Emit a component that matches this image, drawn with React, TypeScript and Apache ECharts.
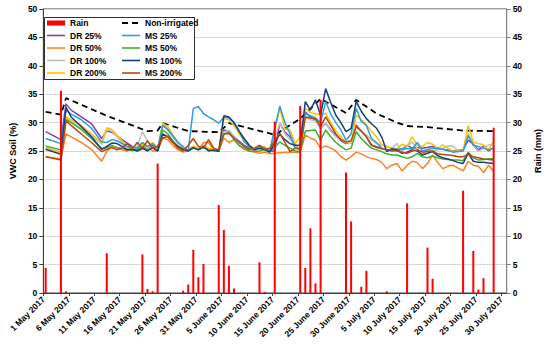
import React, { useEffect, useRef } from "react";
import * as echarts from "echarts";

// day index from 1 May 2017
const MONTHS = ["Jan", "Feb", "Mar", "Apr", "May", "June", "July", "Aug"];
const TICK_DAYS = [0, 5, 10, 15, 20, 25, 30, 35, 40, 45, 50, 55, 60, 65, 70, 75, 80, 85, 90];
const Y_TICKS = [0, 5, 10, 15, 20, 25, 30, 35, 40, 45, 50];

const rain: [number, number][] = [
  [0, 4.4], [3, 35.6], [4, 0.3], [12, 7.0], [19, 6.8], [20, 0.7], [21, 0.3], [22, 22.8],
  [27, 0.4], [28, 1.5], [29, 7.6], [30, 2.8], [31, 5.1], [34, 15.5], [35, 11.1], [36, 4.8],
  [37, 0.8], [42, 5.4], [43, 0.2], [45, 30.2], [50, 32.9], [51, 4.4], [52, 11.4], [53, 1.7],
  [54, 34.0], [59, 21.2], [60, 12.6], [62, 1.1], [63, 3.9], [67, 0.3], [71, 15.8], [75, 8.0],
  [76, 2.5], [82, 18.0], [84, 7.4], [85, 0.6], [86, 2.6], [88, 29.1],
];

const nonIrrigated: [number, number][] = [
  [0, 31.9], [3, 31.4], [4, 34.3], [12, 31.2], [20, 28.5], [22, 28.6], [23, 29.9], [28, 28.5],
  [34, 28.3], [36, 29.9], [44, 28.1], [45, 27.8], [50, 30.7], [54, 34.2], [59, 31.7], [61, 34.0],
  [65, 31.6], [69, 30.0], [71, 29.4], [75, 29.2], [82, 28.6], [88, 28.5],
];

const dr25: [number, number][] = [
  [0, 28.4], [3, 27.0], [4, 33.3], [5, 32.2], [7, 31.0], [9, 29.8], [11, 27.2], [12, 28.5],
  [13, 28.3], [15, 27.0], [17, 25.8], [18, 25.3], [19, 26.5], [20, 25.5], [21, 26.0], [22, 25.3],
  [23, 29.5], [24, 28.8], [26, 26.5], [27, 25.5], [28, 25.2], [29, 25.8], [30, 25.3], [31, 26.0],
  [32, 25.3], [33, 25.2], [34, 25.0], [35, 28.7], [36, 28.5], [37, 27.5], [39, 26.0], [41, 25.2],
  [42, 25.5], [43, 25.6], [44, 25.0], [45, 25.0], [46, 29.9], [47, 28.3], [48, 27.5], [49, 26.0],
  [50, 25.3], [51, 31.9], [52, 30.9], [53, 30.5], [54, 29.0], [55, 29.9], [56, 28.7], [58, 26.8],
  [59, 26.3], [60, 26.5], [61, 29.6], [62, 28.5], [63, 27.5], [64, 26.0], [66, 25.5], [67, 25.2],
  [68, 25.0], [70, 25.2], [71, 26.0], [72, 25.5], [73, 25.6], [74, 25.5], [76, 25.8], [78, 25.3],
  [80, 25.0], [82, 25.2], [83, 26.9], [84, 26.2], [85, 25.2], [86, 25.8], [87, 25.0], [88, 25.6],
];

const dr50: [number, number][] = [
  [0, 24.0], [3, 23.6], [4, 28.0], [5, 27.5], [7, 26.5], [9, 25.3], [11, 23.2], [12, 24.9],
  [13, 25.8], [14, 25.5], [15, 25.2], [16, 25.0], [17, 25.5], [18, 25.0], [19, 25.3], [20, 25.8],
  [21, 25.0], [22, 25.0], [23, 27.3], [24, 27.0], [25, 26.0], [26, 25.2], [27, 24.8], [28, 25.0],
  [29, 25.8], [30, 25.2], [31, 26.5], [32, 26.5], [33, 25.3], [34, 25.0], [35, 27.3], [36, 26.5],
  [37, 27.0], [38, 26.0], [39, 25.3], [40, 25.0], [41, 24.8], [42, 24.6], [43, 24.8], [44, 24.5],
  [46, 24.7], [48, 24.8], [50, 24.8], [51, 27.8], [52, 27.3], [53, 26.9], [54, 25.5], [55, 25.9],
  [56, 25.5], [57, 25.0], [58, 24.0], [59, 23.4], [60, 24.0], [61, 24.8], [62, 24.5], [63, 24.0],
  [64, 23.7], [65, 23.5], [66, 23.0], [67, 21.9], [68, 22.5], [69, 22.8], [70, 21.5], [71, 22.5],
  [72, 23.2], [73, 23.0], [74, 21.9], [75, 22.8], [76, 24.3], [77, 23.0], [78, 21.9], [79, 22.3],
  [80, 22.5], [81, 22.0], [82, 21.5], [83, 23.2], [84, 22.5], [85, 22.3], [86, 21.2], [87, 22.5],
  [88, 21.4],
];

const dr100: [number, number][] = [
  [0, 25.8], [3, 24.8], [4, 30.8], [5, 30.2], [7, 29.0], [9, 27.8], [11, 26.2], [12, 28.8],
  [13, 28.5], [14, 27.5], [15, 26.5], [16, 25.5], [17, 25.3], [18, 25.8], [19, 28.4], [20, 26.8],
  [21, 25.5], [22, 25.3], [23, 29.6], [24, 28.8], [25, 27.5], [26, 26.3], [27, 25.5], [28, 25.0],
  [29, 25.5], [30, 25.3], [31, 25.8], [32, 25.2], [33, 25.0], [34, 25.0], [35, 28.4], [36, 28.6],
  [37, 27.5], [38, 26.5], [39, 25.8], [40, 25.3], [41, 25.0], [42, 25.3], [43, 25.3], [44, 24.8],
  [46, 29.9], [47, 28.0], [48, 27.0], [49, 25.8], [50, 25.5], [51, 31.0], [52, 30.5], [53, 30.3],
  [54, 29.0], [55, 30.0], [56, 28.5], [57, 27.5], [58, 27.0], [59, 26.5], [60, 26.5], [61, 29.3],
  [62, 28.5], [63, 27.8], [64, 27.0], [65, 26.3], [66, 26.0], [67, 25.8], [68, 25.5], [69, 26.3],
  [70, 24.9], [71, 25.8], [72, 26.6], [73, 25.5], [74, 24.4], [75, 25.2], [76, 25.0], [77, 25.2],
  [78, 25.5], [79, 25.9], [80, 25.9], [81, 25.0], [82, 25.0], [83, 28.1], [84, 26.0], [85, 24.9],
  [86, 25.5], [87, 26.1], [88, 26.0],
];

const dr200: [number, number][] = [
  [0, 25.6], [3, 24.6], [4, 31.0], [5, 30.5], [7, 29.5], [9, 28.0], [11, 26.5], [12, 29.1],
  [13, 28.8], [14, 27.8], [15, 26.8], [16, 25.8], [17, 25.0], [18, 25.5], [19, 26.2], [20, 25.5],
  [21, 26.5], [22, 25.3], [23, 29.9], [24, 29.3], [25, 27.8], [26, 26.5], [27, 25.5], [28, 25.0],
  [29, 25.8], [30, 25.5], [31, 26.0], [32, 25.5], [33, 25.3], [34, 25.2], [35, 30.7], [36, 30.5],
  [37, 29.5], [38, 28.0], [39, 27.0], [40, 25.8], [41, 25.5], [42, 25.2], [43, 25.8], [44, 24.8],
  [46, 32.5], [47, 28.9], [48, 28.7], [49, 26.3], [50, 27.5], [51, 32.5], [52, 31.8], [53, 31.5],
  [54, 31.5], [55, 31.6], [56, 30.0], [57, 28.5], [58, 27.5], [59, 26.5], [60, 26.3], [61, 31.3],
  [62, 30.5], [63, 29.6], [64, 28.5], [65, 27.5], [66, 26.1], [67, 25.8], [68, 25.5], [69, 25.4],
  [70, 26.2], [71, 25.8], [72, 27.5], [73, 26.0], [74, 25.8], [75, 26.5], [76, 26.2], [77, 25.4],
  [78, 26.1], [79, 25.5], [80, 24.9], [81, 25.0], [82, 25.0], [83, 29.5], [84, 26.6], [85, 26.3],
  [86, 26.1], [87, 25.2], [88, 26.8],
];

const ms25: [number, number][] = [
  [0, 27.2], [3, 26.3], [4, 32.2], [5, 31.5], [7, 30.5], [9, 29.0], [11, 26.6], [12, 26.5],
  [13, 27.0], [14, 26.8], [16, 25.8], [18, 25.5], [19, 26.5], [20, 25.8], [21, 26.3], [22, 25.5],
  [23, 29.5], [24, 28.8], [26, 26.5], [27, 25.8], [28, 25.0], [29, 32.5], [30, 32.8], [31, 31.6],
  [32, 31.0], [33, 30.5], [34, 29.9], [35, 31.0], [36, 30.8], [37, 30.0], [38, 28.5], [39, 26.6],
  [40, 25.8], [41, 25.2], [42, 26.0], [43, 25.5], [44, 25.0], [46, 32.9], [47, 30.0], [48, 28.0],
  [49, 25.5], [50, 25.5], [51, 31.6], [52, 31.2], [53, 30.8], [54, 30.0], [55, 33.7], [56, 31.5],
  [57, 30.0], [58, 28.7], [59, 26.9], [60, 28.0], [61, 32.5], [62, 30.2], [63, 29.5], [64, 27.2],
  [65, 26.5], [66, 25.5], [67, 25.2], [68, 25.2], [70, 25.4], [72, 25.4], [73, 26.5], [74, 25.0],
  [76, 25.5], [78, 25.3], [80, 24.8], [82, 25.0], [83, 27.7], [84, 26.0], [85, 25.8], [86, 25.5],
  [87, 25.2], [88, 25.5],
];

const ms50: [number, number][] = [
  [0, 25.9], [3, 25.2], [4, 30.5], [5, 30.0], [7, 28.8], [9, 27.2], [11, 25.4], [12, 25.6],
  [13, 26.0], [14, 25.6], [16, 25.3], [17, 25.1], [18, 25.3], [19, 25.8], [20, 25.2], [21, 25.6],
  [22, 25.0], [23, 28.7], [24, 28.0], [25, 26.8], [26, 25.8], [27, 25.3], [28, 25.0], [29, 25.5],
  [30, 25.2], [31, 25.6], [32, 25.2], [33, 25.0], [34, 25.0], [35, 28.0], [36, 28.3], [37, 27.0],
  [38, 26.0], [39, 25.5], [40, 25.0], [41, 24.9], [42, 25.0], [43, 25.2], [44, 24.8], [46, 26.6],
  [47, 26.0], [48, 25.5], [49, 25.0], [50, 24.9], [51, 28.5], [52, 28.6], [53, 28.7], [54, 26.9],
  [55, 28.7], [56, 27.5], [57, 26.5], [58, 25.8], [59, 25.2], [60, 25.5], [61, 28.4], [62, 27.2],
  [63, 26.3], [64, 25.5], [65, 25.2], [66, 24.9], [67, 24.5], [68, 24.3], [69, 24.3], [70, 24.0],
  [71, 23.7], [72, 24.0], [73, 24.6], [74, 24.0], [75, 23.8], [76, 24.1], [77, 23.8], [78, 23.6],
  [79, 23.5], [80, 23.4], [81, 23.4], [82, 23.3], [83, 24.8], [84, 23.8], [85, 23.4], [86, 23.5],
  [87, 23.6], [88, 23.7],
];

const ms100: [number, number][] = [
  [0, 25.3], [3, 24.4], [4, 32.7], [5, 31.0], [7, 29.3], [9, 27.5], [11, 25.3], [12, 25.8],
  [13, 26.4], [14, 26.3], [15, 25.8], [16, 25.2], [17, 25.3], [18, 25.0], [19, 25.5], [20, 25.0],
  [21, 25.6], [22, 25.0], [23, 28.0], [24, 27.5], [25, 26.5], [26, 25.8], [27, 25.3], [28, 25.0],
  [29, 25.6], [30, 25.2], [31, 25.8], [32, 25.0], [33, 25.2], [34, 24.9], [35, 31.2], [36, 31.0],
  [37, 30.0], [38, 28.5], [39, 27.2], [40, 26.0], [41, 25.2], [42, 25.5], [43, 25.3], [44, 24.8],
  [46, 28.0], [47, 27.0], [48, 26.3], [49, 26.0], [50, 26.0], [51, 33.7], [52, 32.2], [53, 34.0],
  [54, 31.3], [55, 36.0], [56, 33.5], [57, 31.3], [58, 30.0], [59, 28.4], [60, 29.0], [61, 33.7],
  [62, 32.0], [63, 30.7], [64, 29.8], [65, 29.0], [66, 27.5], [67, 24.9], [68, 25.4], [69, 25.2],
  [70, 24.6], [71, 24.8], [72, 25.2], [73, 25.0], [74, 24.3], [75, 24.6], [76, 24.9], [77, 24.2],
  [78, 23.8], [79, 23.6], [80, 23.3], [81, 23.0], [82, 22.8], [83, 24.6], [84, 23.2], [85, 23.0],
  [86, 23.0], [87, 22.9], [88, 22.8],
];

const ms200: [number, number][] = [
  [0, 24.0], [3, 23.4], [4, 30.3], [5, 29.5], [7, 28.0], [9, 26.5], [11, 24.9], [12, 25.3],
  [13, 25.6], [14, 25.2], [15, 25.5], [16, 26.3], [17, 25.3], [18, 26.5], [19, 25.5], [20, 26.8],
  [21, 25.5], [22, 25.8], [23, 27.3], [24, 27.6], [25, 26.5], [26, 25.5], [27, 25.0], [28, 26.0],
  [29, 27.2], [30, 25.8], [31, 25.5], [32, 27.0], [33, 25.5], [34, 25.2], [35, 28.0], [36, 28.1],
  [37, 27.3], [38, 26.5], [39, 25.8], [40, 25.3], [41, 25.5], [42, 26.0], [43, 25.3], [44, 25.5],
  [46, 28.1], [47, 26.5], [48, 24.9], [49, 25.5], [50, 25.3], [51, 31.0], [52, 30.8], [53, 30.7],
  [54, 29.3], [55, 31.0], [56, 29.5], [57, 28.0], [58, 27.0], [59, 26.6], [60, 26.8], [61, 29.3],
  [62, 28.5], [63, 27.5], [64, 26.1], [65, 25.6], [66, 25.4], [67, 25.2], [68, 25.2], [69, 25.0],
  [70, 24.8], [71, 24.6], [72, 25.0], [73, 25.2], [74, 24.8], [75, 24.9], [76, 25.0], [77, 24.5],
  [78, 24.4], [79, 24.3], [80, 24.2], [81, 24.0], [82, 24.0], [83, 24.4], [84, 24.0], [85, 23.8],
  [86, 23.6], [87, 23.5], [88, 23.4],
];

const FONT = "'Liberation Sans', Arial, sans-serif";
const SLOT = 0.45; // points sit inside their day slot
const SOLID_ICON = "path://M0,0H18V1.6H0Z";
const DASH_ICON = "path://M0,0H6V2H0Z M10,0H16V2H10Z M18,0H18.01V2H18Z";

function shift(arr: [number, number][]) {
  return arr.map(([d, v]) => [d + SLOT, v]);
}

function dateLabel(v: number) {
  const d = new Date(2017, 4, 1 + Math.round(v));
  return `${d.getDate()} ${MONTHS[d.getMonth()]} 2017`;
}

export default function App() {
  const ref = useRef<HTMLDivElement>(null);
  useEffect(() => {
    if (!ref.current) return;
    const chart = echarts.init(ref.current, null, { renderer: "svg" });
    const lineSeries = (name: string, data: [number, number][], color: string, extra: any = {}) => ({
      name,
      type: "line",
      data: shift(data),
      showSymbol: false,
      symbol: "none",
      lineStyle: { color, width: 1.5, ...(extra.lineStyle || {}) },
      itemStyle: { color },
      z: 2,
    });
    const legendText = { fontFamily: FONT, fontSize: 8.5, fontWeight: "bold", color: "#000", lineHeight: 10 };
    const li = (name: string) => ({ name, icon: SOLID_ICON });
    chart.setOption({
      animation: false,
      backgroundColor: "#fff",
      grid: {
        left: 37, right: 36, top: 9, bottom: 55,
        show: true, borderColor: "#404040", borderWidth: 1, backgroundColor: "#fff",
      },
      graphic: [
        {
          type: "rect",
          shape: { x: 44.5, y: 17.5, width: 150, height: 62 },
          style: { fill: "#fff", stroke: "#303030", lineWidth: 1 },
          z: 10,
        },
      ],
      legend: [
        {
          data: [{ name: "Rain", icon: "rect" }, li("DR 25%"), li("DR 50%"), li("DR 100%"), li("DR 200%")],
          orient: "vertical", left: 47, top: 18, padding: 0,
          itemWidth: 18, itemHeight: 5, itemGap: 2.5,
          selectedMode: false, textStyle: legendText, z: 11,
        },
        {
          data: [{ name: "Non-irrigated", icon: DASH_ICON }, li("MS 25%"), li("MS 50%"), li("MS 100%"), li("MS 200%")],
          orient: "vertical", left: 122, top: 18, padding: 0,
          itemWidth: 18, itemHeight: 5, itemGap: 2.5,
          selectedMode: false, textStyle: legendText, z: 11,
        },
      ],
      xAxis: {
        type: "value",
        min: 0,
        max: 91,
        interval: 5,
        splitLine: { show: false },
        axisLine: { show: true, lineStyle: { color: "#404040", width: 1 } },
        axisTick: { show: true, length: 3, customValues: TICK_DAYS, lineStyle: { color: "#404040" } },
        axisLabel: {
          customValues: TICK_DAYS,
          rotate: 45,
          margin: 5,
          formatter: (v: number) => dateLabel(v),
          fontFamily: FONT, fontSize: 8.5, fontWeight: "bold", color: "#000",
        },
      },
      yAxis: [
        {
          type: "value",
          min: 0, max: 50, interval: 5,
          name: "VWC Soil (%)",
          nameLocation: "middle",
          nameGap: 22,
          nameRotate: 90,
          nameTextStyle: { fontFamily: FONT, fontSize: 9, fontWeight: "bold", color: "#000" },
          axisLine: { show: true, lineStyle: { color: "#404040" } },
          axisTick: { show: true, length: 4, lineStyle: { color: "#404040" } },
          axisLabel: { fontFamily: FONT, fontSize: 8.5, fontWeight: "bold", color: "#000", margin: 6, customValues: Y_TICKS },
          splitLine: { show: true, lineStyle: { color: "#d9d9d9", width: 1 } },
        },
        {
          type: "value",
          min: 0, max: 50, interval: 5,
          position: "right",
          name: "Rain (mm)",
          nameLocation: "middle",
          nameGap: 24,
          nameRotate: 90,
          nameTextStyle: { fontFamily: FONT, fontSize: 9, fontWeight: "bold", color: "#000" },
          axisLine: { show: true, lineStyle: { color: "#808080" } },
          axisTick: { show: true, length: 4, lineStyle: { color: "#808080" } },
          axisLabel: { fontFamily: FONT, fontSize: 8.5, fontWeight: "bold", color: "#000", margin: 6 },
          splitLine: { show: false },
        },
      ],
      series: [
        lineSeries("Non-irrigated", nonIrrigated, "#000", { lineStyle: { type: [6, 4], width: 1.8 } }),
        lineSeries("DR 25%", dr25, "#8040B0"),
        lineSeries("DR 50%", dr50, "#FF8024"),
        lineSeries("DR 100%", dr100, "#BFBFBF"),
        lineSeries("DR 200%", dr200, "#FFC000"),
        lineSeries("MS 25%", ms25, "#2AA0E0"),
        lineSeries("MS 50%", ms50, "#3CB034"),
        lineSeries("MS 100%", ms100, "#1A3E78"),
        lineSeries("MS 200%", ms200, "#B9480F"),
        {
          name: "Rain",
          type: "bar",
          yAxisIndex: 1,
          data: shift(rain),
          barWidth: 2,
          itemStyle: { color: "#FF0000" },
          z: 3,
        },
      ],
    });
    return () => chart.dispose();
  }, []);
  return <div ref={ref} style={{ position: "fixed", left: 0, top: 0, width: 550, height: 348 }} />;
}
